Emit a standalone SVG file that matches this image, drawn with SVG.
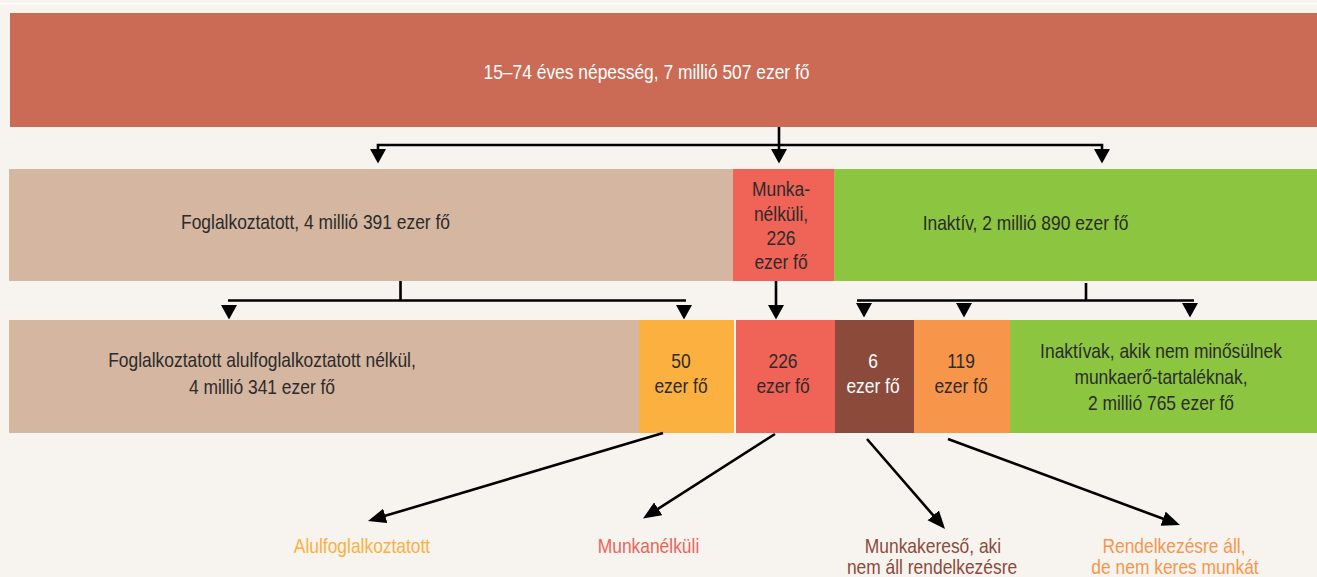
<svg xmlns="http://www.w3.org/2000/svg" xmlns:xlink="http://www.w3.org/1999/xlink" width="1317" height="577" viewBox="0 0 1317 577">
<style>
.t{font-family:"Liberation Sans",Arial,sans-serif;font-size:19.8px;fill:#2b2b2b;text-anchor:middle}
.w{fill:#ffffff}
.c1{fill:#FBB040}.c2{fill:#F06357}.c3{fill:#8C4A3B}.c4{fill:#F7964A}
.ln{stroke:#000;stroke-width:2.6;fill:none}
</style>
<defs>
<path id="tri" d="M-8,0 L8,0 L0,14.5 Z" fill="#000"/>
<marker id="ah" markerUnits="userSpaceOnUse" markerWidth="20" markerHeight="16" refX="8" refY="7.5" orient="auto">
<path d="M0,0 L18,7.5 L0,15 Z" fill="#000"/>
</marker>
</defs>
<rect x="0" y="0" width="1317" height="577" fill="#F7F4F0"/>
<rect x="0" y="3" width="1317" height="1.5" fill="#ffffff"/>

<g id="n-pop">
<rect x="10" y="13" width="1307" height="114" fill="#CB6B55"/>
<text class="t w" transform="translate(646.5,79) scale(0.88,1)">15–74 éves népesség, 7 millió 507 ezer fő</text>
</g>

<g id="n-employed">
<rect x="9" y="169" width="724" height="112" fill="#D5B6A0"/>
<text class="t" transform="translate(315.5,229) scale(0.88,1)">Foglalkoztatott, 4 millió 391 ezer fő</text>
</g>
<g id="n-unemployed">
<rect x="733" y="169" width="101" height="112" fill="#F06357"/>
<text class="t" transform="translate(781,196) scale(0.88,1)">Munka-</text>
<text class="t" transform="translate(781,220.5) scale(0.88,1)">nélküli,</text>
<text class="t" transform="translate(781,245) scale(0.88,1)">226</text>
<text class="t" transform="translate(781,269) scale(0.88,1)">ezer fő</text>
</g>
<g id="n-inactive">
<rect x="834" y="169" width="483" height="112" fill="#8CC540"/>
<text class="t" transform="translate(1025.5,230) scale(0.88,1)">Inaktív, 2 millió 890 ezer fő</text>
</g>

<g id="n-emp-full">
<rect x="9" y="320" width="630" height="113" fill="#D5B6A0"/>
<text class="t" transform="translate(262,367) scale(0.88,1)">Foglalkoztatott alulfoglalkoztatott nélkül,</text>
<text class="t" transform="translate(262,394) scale(0.88,1)">4 millió 341 ezer fő</text>
</g>
<g id="n-under">
<rect x="639" y="320" width="95" height="113" fill="#FBB040"/>
<text class="t" transform="translate(681,368) scale(0.88,1)">50</text>
<text class="t" transform="translate(681,393) scale(0.88,1)">ezer fő</text>
</g>
<g id="n-unemp2">
<rect x="736" y="320" width="99" height="113" fill="#F06357"/>
<text class="t" transform="translate(783,368) scale(0.88,1)">226</text>
<text class="t" transform="translate(783,393) scale(0.88,1)">ezer fő</text>
</g>
<g id="n-seeker">
<rect x="835" y="320" width="79" height="113" fill="#8C4A3B"/>
<text class="t w" transform="translate(873,368) scale(0.88,1)">6</text>
<text class="t w" transform="translate(873,393) scale(0.88,1)">ezer fő</text>
</g>
<g id="n-available">
<rect x="914" y="320" width="96" height="113" fill="#F7964A"/>
<text class="t" transform="translate(961,368) scale(0.88,1)">119</text>
<text class="t" transform="translate(961,393) scale(0.88,1)">ezer fő</text>
</g>
<g id="n-inactive2">
<rect x="1010" y="320" width="307" height="113" fill="#8CC540"/>
<text class="t" transform="translate(1161,357.5) scale(0.88,1)">Inaktívak, akik nem minősülnek</text>
<text class="t" transform="translate(1161,383.5) scale(0.88,1)">munkaerő-tartaléknak,</text>
<text class="t" transform="translate(1161,409.5) scale(0.88,1)">2 millió 765 ezer fő</text>
</g>

<g id="l-under">
<text class="t c1" transform="translate(362,553) scale(0.88,1)">Alulfoglalkoztatott</text>
</g>
<g id="l-unemp">
<text class="t c2" transform="translate(648.5,553) scale(0.88,1)">Munkanélküli</text>
</g>
<g id="l-seeker">
<text class="t c3" transform="translate(933,553) scale(0.88,1)">Munkakereső, aki</text>
<text class="t c3" transform="translate(932,574) scale(0.88,1)">nem áll rendelkezésre</text>
</g>
<g id="l-available">
<text class="t c4" transform="translate(1174,553) scale(0.88,1)">Rendelkezésre áll,</text>
<text class="t c4" transform="translate(1175,574) scale(0.88,1)">de nem keres munkát</text>
</g>

<g id="connectors">
<path class="ln" d="M779,127 V149 M378,149 V145 H1102 V149"/>
<use xlink:href="#tri" x="378" y="149"/>
<use xlink:href="#tri" x="779" y="149"/>
<use xlink:href="#tri" x="1102" y="149"/>

<path class="ln" d="M400.5,281 V300.5 M228,300.5 H686"/>
<use xlink:href="#tri" x="229" y="305"/>
<use xlink:href="#tri" x="684" y="305"/>

<path class="ln" d="M776,281 V306"/>
<use xlink:href="#tri" x="776" y="305"/>

<path class="ln" d="M1086,283 V300.5 M857,300.5 H1194"/>
<use xlink:href="#tri" x="864" y="303"/>
<use xlink:href="#tri" x="964" y="303"/>
<use xlink:href="#tri" x="1190" y="303"/>

<line class="ln" x1="663" y1="433" x2="377.6" y2="518.1" marker-end="url(#ah)"/>
<line class="ln" x1="775" y1="434" x2="651.4" y2="513.1" marker-end="url(#ah)"/>
<line class="ln" x1="867" y1="439" x2="938.5" y2="521.4" marker-end="url(#ah)"/>
<line class="ln" x1="948" y1="439" x2="1170.6" y2="521.5" marker-end="url(#ah)"/>
</g>
</svg>
